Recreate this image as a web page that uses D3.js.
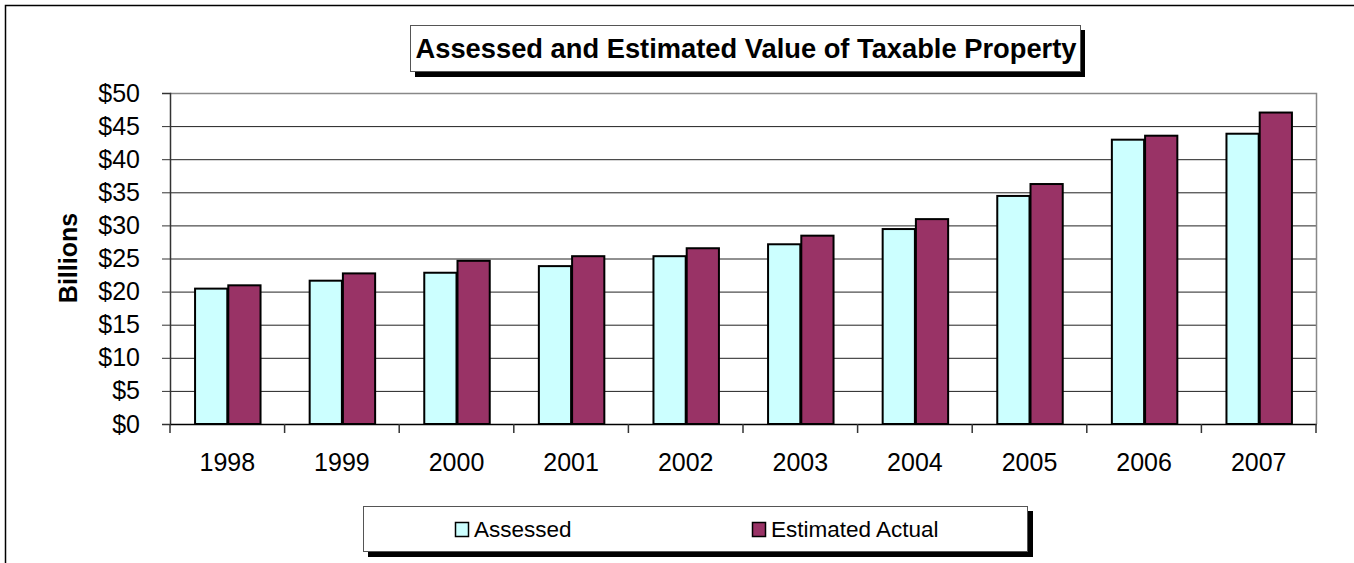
<!DOCTYPE html>
<html lang="en">
<head>
<meta charset="UTF-8">
<title>Assessed and Estimated Value of Taxable Property</title>
<style>
    body{ margin:0; background:#fff; }
    svg{ display:block; font-family:"Liberation Sans", Arial, sans-serif; }
</style>
</head>
<body>
<svg width="1354" height="563"></svg>
<script src="https://cdn.jsdelivr.net/npm/d3@7"></script>
<script>
// data (billions of dollars)
var years = ["1998","1999","2000","2001","2002","2003","2004","2005","2006","2007"];
var assessed = [20.6, 21.8, 23.0, 24.0, 25.5, 27.3, 29.6, 34.6, 43.1, 44.0];
var estimated = [21.1, 22.9, 24.8, 25.5, 26.7, 28.6, 31.1, 36.4, 43.7, 47.2];
var seriesNames = ["Assessed", "Estimated Actual"];
var seriesColors = ["#ccffff", "#993366"];
var yTicks = [0, 5, 10, 15, 20, 25, 30, 35, 40, 45, 50];

drawChart();

function drawChart(){
    var svg = d3.select("svg");

    // outer frame (runs past the window on right and bottom)
    svg.append("rect").attr("x", 5.5).attr("y", 5.5).attr("width", 1400).attr("height", 600)
        .attr("fill", "none").attr("stroke", "#000").attr("stroke-width", 1.5);

    var plotL = 170, plotT = 93, plotR = 1316, plotB = 424;
    var w = plotR - plotL, h = plotB - plotT;
    var g = svg.append("g").attr("transform", "translate(" + plotL + "," + plotT + ")");

    var x0 = d3.scaleBand().domain(years).range([0, w]).padding(0);
    var x1 = d3.scaleBand().domain(seriesNames).range([x0.bandwidth() * 0.21, x0.bandwidth() * 0.79]).padding(0);
    var y = d3.scaleLinear().domain([0, 50]).range([h, 0]);

    // gridlines
    g.append("g").call(d3.axisLeft(y).tickValues(yTicks).tickSize(-w).tickFormat(""))
        .call(function(s){ s.select(".domain").remove(); s.selectAll("line").attr("stroke", "#222"); });

    // plot border top and right
    g.append("path").attr("d", "M0,0.5H" + (w + 0.5) + "V" + h).attr("fill", "none").attr("stroke", "#888").attr("stroke-width", 1.5);

    // bars
    var rows = years.map(function(yr, i){ return {year: yr, vals: [assessed[i], estimated[i]]}; });
    g.selectAll(".grp").data(rows).enter().append("g").attr("class", "grp")
        .attr("transform", function(d){ return "translate(" + x0(d.year) + ",0)"; })
        .selectAll("rect").data(function(d){ return d.vals.map(function(v, k){ return {name: seriesNames[k], v: v, k: k}; }); })
        .enter().append("rect")
        .attr("x", function(d){ return x1(d.name) + 1; })
        .attr("width", x1.bandwidth() - 1)
        .attr("y", function(d){ return y(d.v) + 1; })
        .attr("height", function(d){ return h - y(d.v) - 1; })
        .attr("fill", function(d){ return seriesColors[d.k]; })
        .attr("stroke", "#000").attr("stroke-width", 2);

    // y axis
    var yAxis = g.append("g").call(d3.axisLeft(y).tickValues(yTicks).tickSize(8).tickPadding(22)
        .tickFormat(function(d){ return "$" + d; }));
    yAxis.select(".domain").attr("stroke", "#333").attr("stroke-width", 1.5);
    yAxis.selectAll("line").attr("stroke", "#333");
    yAxis.selectAll("text").attr("font-size", 25).attr("fill", "#000").attr("font-family", "Liberation Sans, Arial, sans-serif");

    // x axis: labels at band centres, ticks on band edges
    var xAxis = g.append("g").attr("transform", "translate(0," + h + ")")
        .call(d3.axisBottom(x0).tickSize(0).tickPadding(29));
    xAxis.select(".domain").attr("stroke", "#000").attr("stroke-width", 1.5);
    xAxis.selectAll("text").attr("font-size", 25).attr("fill", "#000").attr("font-family", "Liberation Sans, Arial, sans-serif");
    xAxis.selectAll(".edge").data(years.concat(["end"])).enter().append("line").attr("class", "edge")
        .attr("x1", function(d){ return d === "end" ? w : x0(d); })
        .attr("x2", function(d){ return d === "end" ? w : x0(d); })
        .attr("y1", 0).attr("y2", 9).attr("stroke", "#333").attr("stroke-width", 1.5);

    // y label
    svg.append("text").attr("transform", "translate(77,258) rotate(-90)")
        .attr("text-anchor", "middle").attr("font-size", 25).attr("font-weight", "bold").text("Billions");

    // title box with shadow
    svg.append("rect").attr("x", 415).attr("y", 30).attr("width", 670).attr("height", 47).attr("fill", "#000");
    svg.append("rect").attr("x", 410.5).attr("y", 25.5).attr("width", 670).attr("height", 46)
        .attr("fill", "#fff").attr("stroke", "#555").attr("stroke-width", 1);
    svg.append("text").attr("x", 746).attr("y", 57.5).attr("text-anchor", "middle")
        .attr("font-size", 27.3).attr("font-weight", "bold").text("Assessed and Estimated Value of Taxable Property");

    // legend box with shadow
    svg.append("rect").attr("x", 368).attr("y", 511).attr("width", 665).attr("height", 46).attr("fill", "#000");
    svg.append("rect").attr("x", 363.5).attr("y", 506.5).attr("width", 664).attr("height", 45)
        .attr("fill", "#fff").attr("stroke", "#555").attr("stroke-width", 1);
    var legX = [455, 752];
    var leg = svg.selectAll(".leg").data(seriesNames).enter().append("g").attr("class", "leg")
        .attr("transform", function(d, i){ return "translate(" + legX[i] + ",522)"; });
    leg.append("rect").attr("x", 0.5).attr("y", 0.5).attr("width", 13).attr("height", 14)
        .attr("fill", function(d, i){ return seriesColors[i]; }).attr("stroke", "#000").attr("stroke-width", 1.5);
    leg.append("text").attr("x", 19).attr("y", 15).attr("font-size", 22.5).text(function(d){ return d; });
}
</script>
</body>
</html>
